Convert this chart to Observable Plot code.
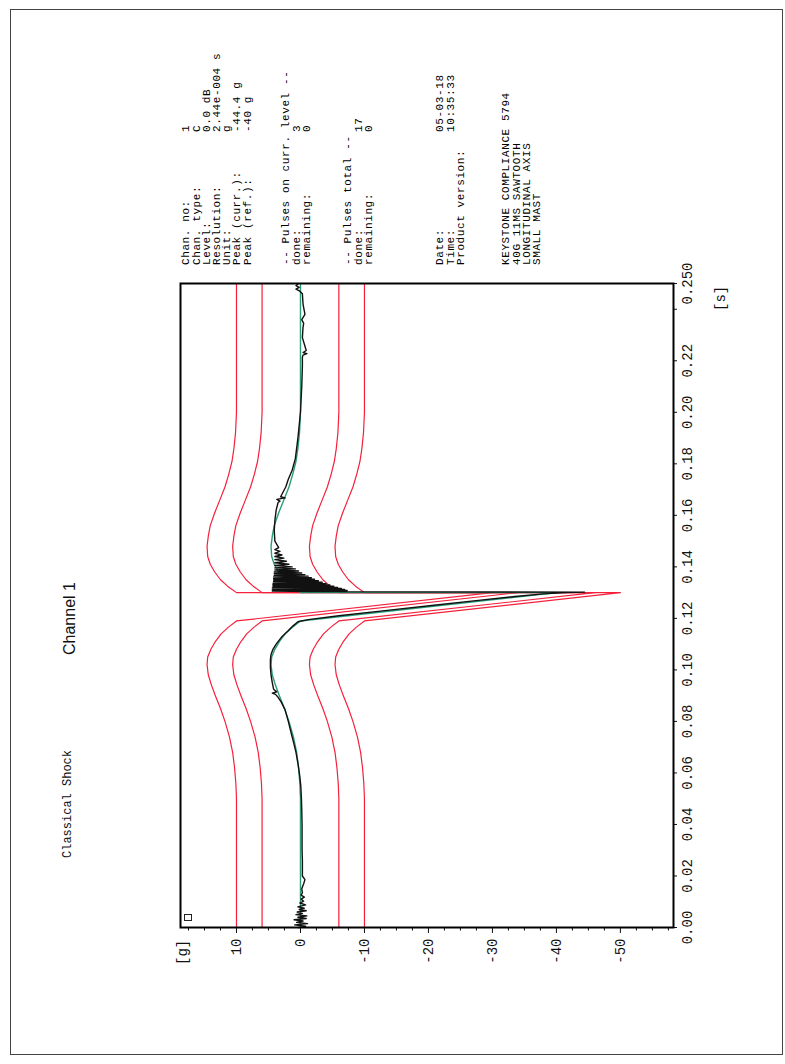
<!DOCTYPE html>
<html><head><meta charset="utf-8">
<script src="https://cdn.jsdelivr.net/npm/d3@7"></script>
<script src="https://cdn.jsdelivr.net/npm/@observablehq/plot@0.6"></script>
<style>
html,body{margin:0;padding:0;background:#fff;overflow:hidden;width:785px;height:1064px;}
#page{position:absolute;left:0;top:0;width:1064px;height:785px;transform-origin:0 0;transform:translate(0px,1064px) rotate(-90deg);}
#page svg{position:absolute;left:0;top:0;}
.t{position:absolute;white-space:pre;font-family:"Liberation Mono",monospace;color:#111;}
.info{letter-spacing:0.6px;color:#000;}
#border{position:absolute;left:9px;top:10px;width:1046px;height:773px;border:1.5px solid #444;box-sizing:border-box;}
#marker{position:absolute;left:143px;top:184px;width:5px;height:6px;border:1px solid #222;}
</style></head><body><div id="page"><div id="border"></div></div>
<script>
// ---------- data ----------
const tickTimes = [0, 0.02, 0.04, 0.06, 0.08, 0.10, 0.12, 0.14, 0.16, 0.18, 0.20, 0.22, 0.25];
const tickTimeLabels = ["0.00","0.02","0.04","0.06","0.08","0.10","0.12","0.14","0.16","0.18","0.20","0.22","0.250"];
const extraTimeTicks = [0.24];
const tickG = [-50, -40, -30, -20, -10, 0, 10];
const minorG = [-57.5,-55,-52.5,-47.5,-45,-42.5,-37.5,-35,-32.5,-27.5,-25,-22.5,-17.5,-15,-12.5,-7.5,-5,-2.5,2.5,5,7.5,12.5,15,17.5];

// reference (compensated sawtooth) profile, g vs s
const refTime = [0, 0.050, 0.056, 0.062, 0.068, 0.074, 0.080, 0.085, 0.090, 0.094, 0.098, 0.102, 0.105, 0.108, 0.111, 0.114, 0.1165, 0.119,
  0.130, 0.130, 0.1325, 0.135, 0.138, 0.141, 0.144, 0.148, 0.152, 0.156, 0.161, 0.166, 0.171, 0.176, 0.181, 0.186, 0.192, 0.200, 0.250];
const refG = [0, 0, 0.1, 0.3, 0.6, 1.1, 1.8, 2.5, 3.3, 3.9, 4.4, 4.6, 4.5, 4.0, 3.3, 2.4, 1.3, 0,
  -40, 0, 1.4, 2.5, 3.4, 4.1, 4.5, 4.6, 4.4, 4.1, 3.4, 2.6, 1.8, 1.2, 0.7, 0.4, 0.15, 0, 0];

// tolerance offsets around the reference (±15 %, ±25 % of 40 g)
const toleranceOffsets = [10, 6, -6, -10];

// measured response
const measTime = [0.0000,0.0005,0.0010,0.0015,0.0020,0.0025,0.0030,0.0035,0.0040,0.0045,0.0050,0.0055,0.0060,0.0065,0.0070,0.0075,0.0080,0.0088,0.0095,0.0102,0.0110,0.0118,0.0126,0.0135,0.0150,0.0170,0.0186,0.0200,0.0230,0.0260,0.0300,0.0350,0.0400,0.0457,0.0500,0.0550,0.0586,0.0630,0.0680,0.0716,0.0760,0.0800,0.0845,0.0875,0.0897,0.0905,0.0910,0.0915,0.0925,0.0950,0.0980,0.1010,0.1040,0.1060,0.1080,0.1100,0.1129,0.1150,0.1170,0.1187,
  0.1195,0.1210,0.1230,0.1250,0.1270,0.1285,0.1295,0.1300,0.1302,0.1304,
  0.1306,0.1308,0.1310,0.1312,0.1314,0.1316,0.1318,0.1320,0.1322,0.1325,0.1327,0.1330,0.1332,0.1335,0.1337,0.1340,0.1343,0.1346,0.1349,0.1352,0.1355,0.1358,0.1361,0.1364,0.1367,0.1370,0.1373,0.1376,0.1380,0.1384,0.1388,0.1392,0.1396,0.1400,0.1405,0.1410,0.1416,0.1422,0.1428,0.1434,0.1440,0.1446,0.1453,0.1460,0.1467,0.1475,
  0.1500,0.1540,0.1580,0.1620,0.1650,0.1655,0.1662,0.1668,0.1672,0.1710,0.1740,0.1775,0.1820,0.1900,0.2000,0.2100,0.2180,0.2215,0.2222,0.2228,0.2232,0.2240,0.2290,0.2330,0.2345,0.2360,0.2380,0.2420,0.2460,0.2470,0.2478,0.2485,0.2492,0.2500];
const measG = [0.3,-0.8,0.9,-1.1,0.6,-0.4,1.0,-0.9,0.4,-1.0,0.7,-0.3,0.5,-0.9,0.2,-0.6,0.4,-0.8,0.1,-0.5,-0.1,-0.6,-0.1,-0.3,-0.2,-0.5,-0.7,-0.3,-0.3,-0.3,-0.25,-0.25,-0.25,-0.2,-0.15,-0.05,0.1,0.35,0.7,1.05,1.5,1.9,2.4,3.0,3.6,3.9,4.4,3.7,4.2,4.4,4.6,4.7,4.7,4.6,4.3,3.8,2.9,2.0,1.2,0.4,
  -1.2,-6.0,-13.2,-20.5,-27.8,-33.5,-38.0,-41.5,-44.4,-1.5,
  4.4,-7.3,4.4,-6.9,4.3,-6.4,4.4,-5.8,4.3,-5.2,4.3,-4.6,4.3,-4.0,4.3,-3.4,4.2,-2.8,4.2,-2.2,4.2,-1.7,4.2,-1.2,4.1,-0.7,4.1,-0.2,4.1,0.3,4.0,0.8,4.0,1.3,4.0,1.8,4.0,2.2,4.0,2.6,4.0,2.9,4.0,3.2,4.0,3.4,4.0,
  4.1,4.0,3.8,3.5,3.2,3.7,2.4,3.1,2.3,1.9,1.3,0.8,0.4,0.0,-0.2,-0.3,-0.3,-0.4,-1.0,-0.4,-0.9,-0.3,-0.4,-0.5,-0.2,-0.7,-0.4,-0.3,0.1,0.7,0.2,0.7,0.3,0.5];

// text
const titleText = "Channel 1";
const subtitleText = "Classical Shock";
const yUnit = "[g]";
const xUnit = "[s]";
const infoBlocks = [
  {labels:["Chan. no:","Chan. type:","Level:","Resolution:","Unit:","Peak (curr.):","Peak (ref.):"],
   values:["1","C","0.0 dB","2.44e-004 s","g","-44.4 g","-40 g"]},
  {labels:["-- Pulses on curr. level --","done:","remaining:"], values:["","3","0"]},
  {labels:["-- Pulses total --","done:","remaining:"], values:["","17","0"]},
  {labels:["Date:","Time:","Product version:"], values:["05-03-18","10:35:33",""]},
  {labels:["KEYSTONE COMPLIANCE 5794","40G 11MS SAWTOOTH","LONGITUDINAL AXIS","SMALL MAST"], values:["","","",""]}
];

// ---------- build ----------
const ref = refTime.map((t,i)=>({t, g: refG[i]}));
const meas = measTime.map((t,i)=>({t, g: measG[i]}));
const tol = toleranceOffsets.flatMap(o => refTime.map((t,i)=>({t, g: refG[i] + o, band: o})));
const fmtT = d => tickTimeLabels[tickTimes.indexOf(d)];

const chart = Plot.plot({
  width: 1064, height: 785,
  marginLeft: 136, marginRight: 284, marginTop: 180, marginBottom: 112,
  x: {domain: [0, 0.25]},
  y: {domain: [-58.3, 18.75]},
  style: {fontFamily: "'Liberation Mono', monospace", fontSize: "14px", color: "#111", background: "none"},
  marks: [
    Plot.axisX({ticks: tickTimes, tickFormat: fmtT, tickSize: 4, tickPadding: 5, label: null}),
    Plot.axisX({ticks: extraTimeTicks, tickFormat: () => "", tickSize: 4, label: null}),
    Plot.axisY({ticks: tickG, tickFormat: d => String(d), tickSize: 5, tickPadding: 6, label: null}),
    Plot.axisY({ticks: minorG, tickFormat: () => "", tickSize: 2.5, label: null}),
    Plot.line(tol, {x: "t", y: "g", z: "band", stroke: "#f5203c", strokeWidth: 1.2}),
    Plot.line(ref, {x: "t", y: "g", stroke: "#2a9d7a", strokeWidth: 1.4}),
    Plot.line(meas, {x: "t", y: "g", stroke: "#111", strokeWidth: 1.4}),
    Plot.frame({stroke: "#000", strokeWidth: 2})
  ]
});
const page = document.getElementById("page");
page.insertBefore(chart, page.firstChild);

function addText(str, x, yc, size, family, cls) {
  const d = document.createElement("div");
  d.className = "t" + (cls ? " " + cls : ""); d.textContent = str;
  d.style.left = x + "px";
  d.style.top = (yc - size * 0.6) + "px";
  d.style.fontSize = size + "px";
  d.style.lineHeight = (size * 1.2) + "px";
  if (family) d.style.fontFamily = family;
  page.appendChild(d);
  return d;
}
addText(titleText, 409, 70, 16, "'Liberation Sans', sans-serif");
addText(subtitleText, 206, 68, 12);
addText(yUnit, 99, 183, 14);
addText(xUnit, 753, 721, 14);

const blockStarts = [187, 287, 349, 441, 507];
const pitch = 10.2;
infoBlocks.forEach((b, bi) => {
  b.labels.forEach((lab, li) => {
    const yc = blockStarts[bi] + li * pitch;
    addText(lab, 799, yc, 11, null, "info");
    if (b.values[li]) addText(b.values[li], 932, yc, 11, null, "info");
  });
});
const mk = document.createElement("div"); mk.id = "marker"; page.appendChild(mk);
</script></body></html>
